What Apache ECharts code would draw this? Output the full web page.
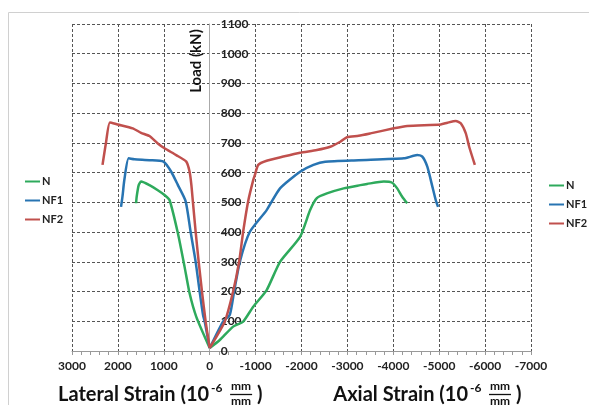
<!DOCTYPE html>
<html>
<head>
<meta charset="utf-8">
<script src="https://cdn.jsdelivr.net/npm/echarts@6/dist/echarts.min.js"></script>
<style>html,body{margin:0;padding:0;background:#fff;}#c{width:589px;height:405px;}</style>
</head>
<body>
<div id="c"></div>
<script>
// ---- data: [strain (10^-6), load (kN)] ----
const seriesNames = ['N', 'NF1', 'NF2'];
const seriesColors = ['#2eaa5c', '#2874b2', '#c0504d'];
const xTicks = [3000, 2000, 1000, 0, -1000, -2000, -3000, -4000, -5000, -6000, -7000];
const yTicks = [0, 100, 200, 300, 400, 500, 600, 700, 800, 900, 1000, 1100];

const N_lateral = [[0,10],[292,115],[438,194],[547,283],[693,396],[875,508],[985,525],[1131,541],[1313,558],[1495,570],[1547,558],[1590,520],[1604,497]];
const NF1_lateral = [[0,10],[109,99],[146,122],[219,200],[306,300],[416,401],[525,504],[693,558],[838,603],[1007,637],[1313,642],[1641,645],[1766,648],[1860,575],[1900,520],[1932,485]];
const NF2_lateral = [[0,10],[88,99],[168,200],[240,300],[306,401],[365,500],[400,560],[438,603],[510,637],[729,659],[985,682],[1131,698],[1313,723],[1495,734],[1678,749],[2006,762],[2173,769],[2262,698],[2335,626]];

const N_axial = [[0,10],[-219,37],[-510,82],[-729,99],[-948,149],[-1241,205],[-1532,300],[-1969,384],[-2188,474],[-2334,514],[-2553,530],[-2918,547],[-3282,558],[-3428,562],[-3793,570],[-3975,566],[-4085,547],[-4194,519],[-4303,497]];
const NF1_axial = [[0,10],[-291,99],[-438,122],[-532,200],[-656,300],[-875,401],[-1241,474],[-1532,547],[-1969,603],[-2260,626],[-2516,637],[-3245,642],[-4230,648],[-4522,659],[-4632,654],[-4741,620],[-4851,553],[-4924,508],[-4975,485]];
const NF2_axial = [[0,10],[-328,99],[-510,200],[-641,300],[-729,401],[-838,504],[-948,575],[-985,592],[-1057,626],[-1241,640],[-1604,654],[-1969,667],[-2334,676],[-2626,687],[-2845,704],[-2991,719],[-3245,724],[-3501,732],[-4011,749],[-4303,757],[-5033,762],[-5179,768],[-5361,774],[-5470,766],[-5580,732],[-5653,687],[-5777,626]];

const curves = [
  [N_lateral, N_axial],
  [NF1_lateral, NF1_axial],
  [NF2_lateral, NF2_axial]
];

const chart = echarts.init(document.getElementById('c'), null, {renderer: 'canvas'});
const series = [];
curves.forEach((pair, i) => {
  pair.forEach(d => {
    series.push({
      name: seriesNames[i], type: 'line', data: d, smooth: 0.2,
      showSymbol: false, symbol: 'none', clip: false,
      lineStyle: {color: seriesColors[i], width: 2.5},
      itemStyle: {color: seriesColors[i]},
      emphasis: {disabled: true}
    });
  });
});

const labelFont = {fontFamily: 'Lato', fontWeight: 'bold', fontSize: 12, color: '#222'};
const titleFont = 'bold 20px Lato';
const legendCommon = {
  orient: 'vertical', data: seriesNames, icon: 'rect', itemWidth: 15, itemHeight: 2,
  itemGap: 8, textStyle: {fontFamily: 'Lato', fontWeight: 'bold', fontSize: 11, color: '#222', padding: [0,0,0,-3]}
};

const mctx = document.createElement('canvas').getContext('2d');
function measure(t, f) { mctx.font = f; return mctx.measureText(t).width; }

function titleGroup(startX, endX, text) {
  const w = measure(text, titleFont);
  const x0 = startX != null ? startX : endX - w;
  const E = x0 + w;
  const frac = E + 32;
  return {
    type: 'group', x: 0, y: 0,
    children: [
      {type: 'text', style: {text: text, font: titleFont, fill: '#111', x: x0, y: 405, textVerticalAlign: 'bottom'}},
      {type: 'text', style: {text: '-6', font: 'bold 12px Lato', fill: '#111', x: E + 2, y: 382, textVerticalAlign: 'top'}},
      {type: 'text', style: {text: 'mm', font: 'bold 12px Lato', fill: '#111', x: frac, y: 380, textAlign: 'center', textVerticalAlign: 'top'}},
      {type: 'line', shape: {x1: frac - 11, y1: 394.5, x2: frac + 11, y2: 394.5}, style: {stroke: '#111', lineWidth: 1.3}},
      {type: 'text', style: {text: 'mm', font: 'bold 12px Lato', fill: '#111', x: frac, y: 395, textAlign: 'center', textVerticalAlign: 'top'}},
      {type: 'text', style: {text: ')', font: titleFont, fill: '#111', x: E + 48, y: 405, textVerticalAlign: 'bottom'}}
    ]
  };
}

const gridLeft = 72;
chart.setOption({
  animation: false,
  color: seriesColors,
  grid: {left: gridLeft, right: 58, top: 24, bottom: 54, containLabel: false},
  xAxis: {
    type: 'value', inverse: true, min: -7000, max: 3000, interval: 1000,
    axisLine: {onZero: false, lineStyle: {color: '#999', width: 1}},
    axisTick: {show: true, length: 4, lineStyle: {color: '#999'}},
    minorTick: {show: true, splitNumber: 5, length: 4, lineStyle: {color: '#999'}},
    splitLine: {show: true, lineStyle: {color: '#555', type: [3, 2], width: 1}},
    axisLabel: Object.assign({margin: 9, formatter: v => xTicks.includes(v) ? String(v) : ''}, labelFont)
  },
  yAxis: {
    type: 'value', min: 0, max: 1100, interval: 100, offset: 0,
    axisLine: {show: true, onZero: false, lineStyle: {color: '#aaa', width: 1}},
    axisTick: {show: false},
    splitLine: {show: true, lineStyle: {color: '#555', type: [3, 2], width: 1}},
    axisLabel: Object.assign({inside: true, margin: 11, formatter: v => yTicks.includes(v) ? String(v) : ''}, labelFont)
  },
  legend: [
    Object.assign({left: 20, top: 171}, legendCommon),
    Object.assign({left: 544, top: 175}, legendCommon)
  ],
  graphic: [
    {type: 'rect', z: -10, shape: {x: 8.5, y: 12.5, width: 700, height: 500}, style: {fill: 'none', stroke: '#d0d0d0', lineWidth: 1}},
    {type: 'text', z: 10, x: 196, y: 61, rotation: Math.PI / 2, style: {text: 'Load (kN)', font: 'bold 15px Lato', fill: '#111', textAlign: 'center', textVerticalAlign: 'middle'}},
    titleGroup(58, null, 'Lateral Strain (10'),
    titleGroup(null, 468, 'Axial Strain (10')
  ],
  series: series
});
// place the y axis (line + labels) at x = 0 of the strain axis
const zeroPx = chart.convertToPixel({xAxisIndex: 0}, 0);
chart.setOption({yAxis: {offset: gridLeft - zeroPx}});
</script>
</body>
</html>
